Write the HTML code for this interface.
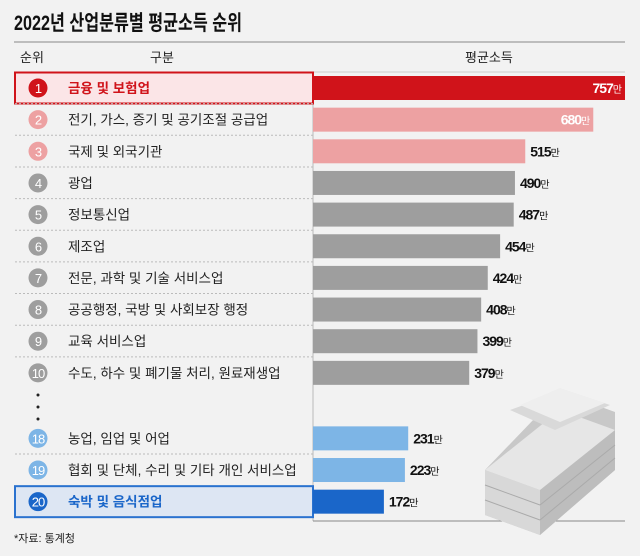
<!DOCTYPE html>
<html><head><meta charset="utf-8"><style>
body{margin:0;background:#f2f2f2;}
svg{display:block;font-family:"Liberation Sans","Noto Sans CJK KR","NanumGothic",sans-serif;}
</style></head><body>
<svg id="c" width="640" height="556" viewBox="0 0 640 556">
<rect width="640" height="556" fill="#f2f2f2"/>
<text x="14" y="30" font-size="21" font-weight="bold" fill="#111" textLength="228" lengthAdjust="spacingAndGlyphs">2022년 산업분류별 평균소득 순위</text>
<line x1="14" y1="42" x2="625" y2="42" stroke="#888" stroke-width="1"/>
<text x="20" y="62" font-size="13" fill="#222">순위</text>
<text x="150" y="62" font-size="13" fill="#222">구분</text>
<text x="465" y="62" font-size="13" fill="#222">평균소득</text>
<line x1="313" y1="72" x2="625" y2="72" stroke="#ccc"/>
<line x1="313" y1="72" x2="313" y2="521" stroke="#ccc" stroke-width="1.5"/>
<line x1="313" y1="521" x2="625" y2="521" stroke="#888"/>
<g id="money">
<polygon points="485,470 560,392 615,412 615,470 540,535 485,515" fill="#c8c8c8"/>
<polygon points="485,470 540,490 540,535 485,515" fill="#d8d8d8"/>
<polygon points="540,490 615,430 615,470 540,535" fill="#bdbdbd"/>
<polygon points="485,470 560,410 615,430 540,490" fill="#e6e6e6"/>
<polygon points="510,410 565,390 610,405 555,430" fill="#d9d9d9"/>
<polygon points="520,405 560,388 605,403 560,422" fill="#eeeeee"/>
<line x1="485" y1="485" x2="540" y2="505" stroke="#aaa"/><line x1="485" y1="500" x2="540" y2="520" stroke="#aaa"/>
<line x1="540" y1="505" x2="615" y2="445" stroke="#aaa"/><line x1="540" y1="520" x2="615" y2="458" stroke="#aaa"/>
</g>
<circle cx="38" cy="395" r="1.5" fill="#222"/>
<circle cx="38" cy="407" r="1.5" fill="#222"/>
<circle cx="38" cy="419" r="1.5" fill="#222"/>
<text x="14" y="542" font-size="11" fill="#222">*자료: 통계청</text>
</svg>
<script>
const ranks=[1,2,3,4,5,6,7,8,9,10,18,19,20];
const categories=["금융 및 보험업","전기, 가스, 증기 및 공기조절 공급업","국제 및 외국기관","광업","정보통신업","제조업","전문, 과학 및 기술 서비스업","공공행정, 국방 및 사회보장 행정","교육 서비스업","수도, 하수 및 폐기물 처리, 원료재생업","농업, 임업 및 어업","협회 및 단체, 수리 및 기타 개인 서비스업","숙박 및 음식점업"];
const values=[757,680,515,490,487,454,424,408,399,379,231,223,172];
const svg=document.getElementById('c');
const NS='http://www.w3.org/2000/svg';
const x0=313,xMax=757,wMax=312;
const xs=v=>v/xMax*wMax;
const yc=i=>88+(i<10?i:i+1.07)*31.65;
function col(i){if(i===0)return'#d0131a';if(i<3)return'#eda1a2';if(i<10)return'#9e9e9e';if(i<12)return'#7db5e6';return'#1a66c9';}
function mk(t,a){const e=document.createElementNS(NS,t);for(const k in a)e.setAttribute(k,a[k]);svg.insertBefore(e,document.getElementById('money'));return e;}
ranks.forEach((r,i)=>{
 const y=yc(i);
 if(i===0||i===12){
  const hb=mk('rect',{x:15,y:y-15.5,width:298,height:31,fill:i===0?'#fbe5e7':'#dde6f3',stroke:i===0?'#d0131a':'#2a72cf','stroke-width':2});
  
  
 } else if(i!==10){
  const sep=mk('line',{x1:15,y1:y-16,x2:313,y2:y-16,stroke:'#bbb','stroke-dasharray':'2,2'});
  
  
 }
 const w=xs(values[i]);
 const b=mk('rect',{x:x0,y:y-12,width:w,height:24,fill:col(i)});
 
 
 const c=mk('circle',{cx:38,cy:y,r:9.5,fill:col(i)});
 
 
 const ct=mk('text',{x:38,y:y+5,'font-size':13,fill:'#fff','text-anchor':'middle','letter-spacing':'-1'});
 ct.textContent=r;
 
 
 const lt=mk('text',{x:68,y:y+5,'font-size':13.5,fill:i===0?'#d0131a':i===12?'#1a66c9':'#222','font-weight':(i===0||i===12)?'bold':'normal'});
 lt.textContent=categories[i];
 
 
 const inside=i<2;
 const vt=mk('text',{x:inside?x0+w-4:x0+w+5,y:y+5,'font-size':14,'font-weight':'bold',fill:inside?'#fff':'#111','text-anchor':inside?'end':'start','letter-spacing':'-1'});
 vt.textContent=values[i];
 const u=document.createElementNS(NS,'tspan');u.setAttribute('font-size','10');u.setAttribute('font-weight','normal');u.textContent='만';vt.appendChild(u);
 
 
});
</script>
</body></html>
